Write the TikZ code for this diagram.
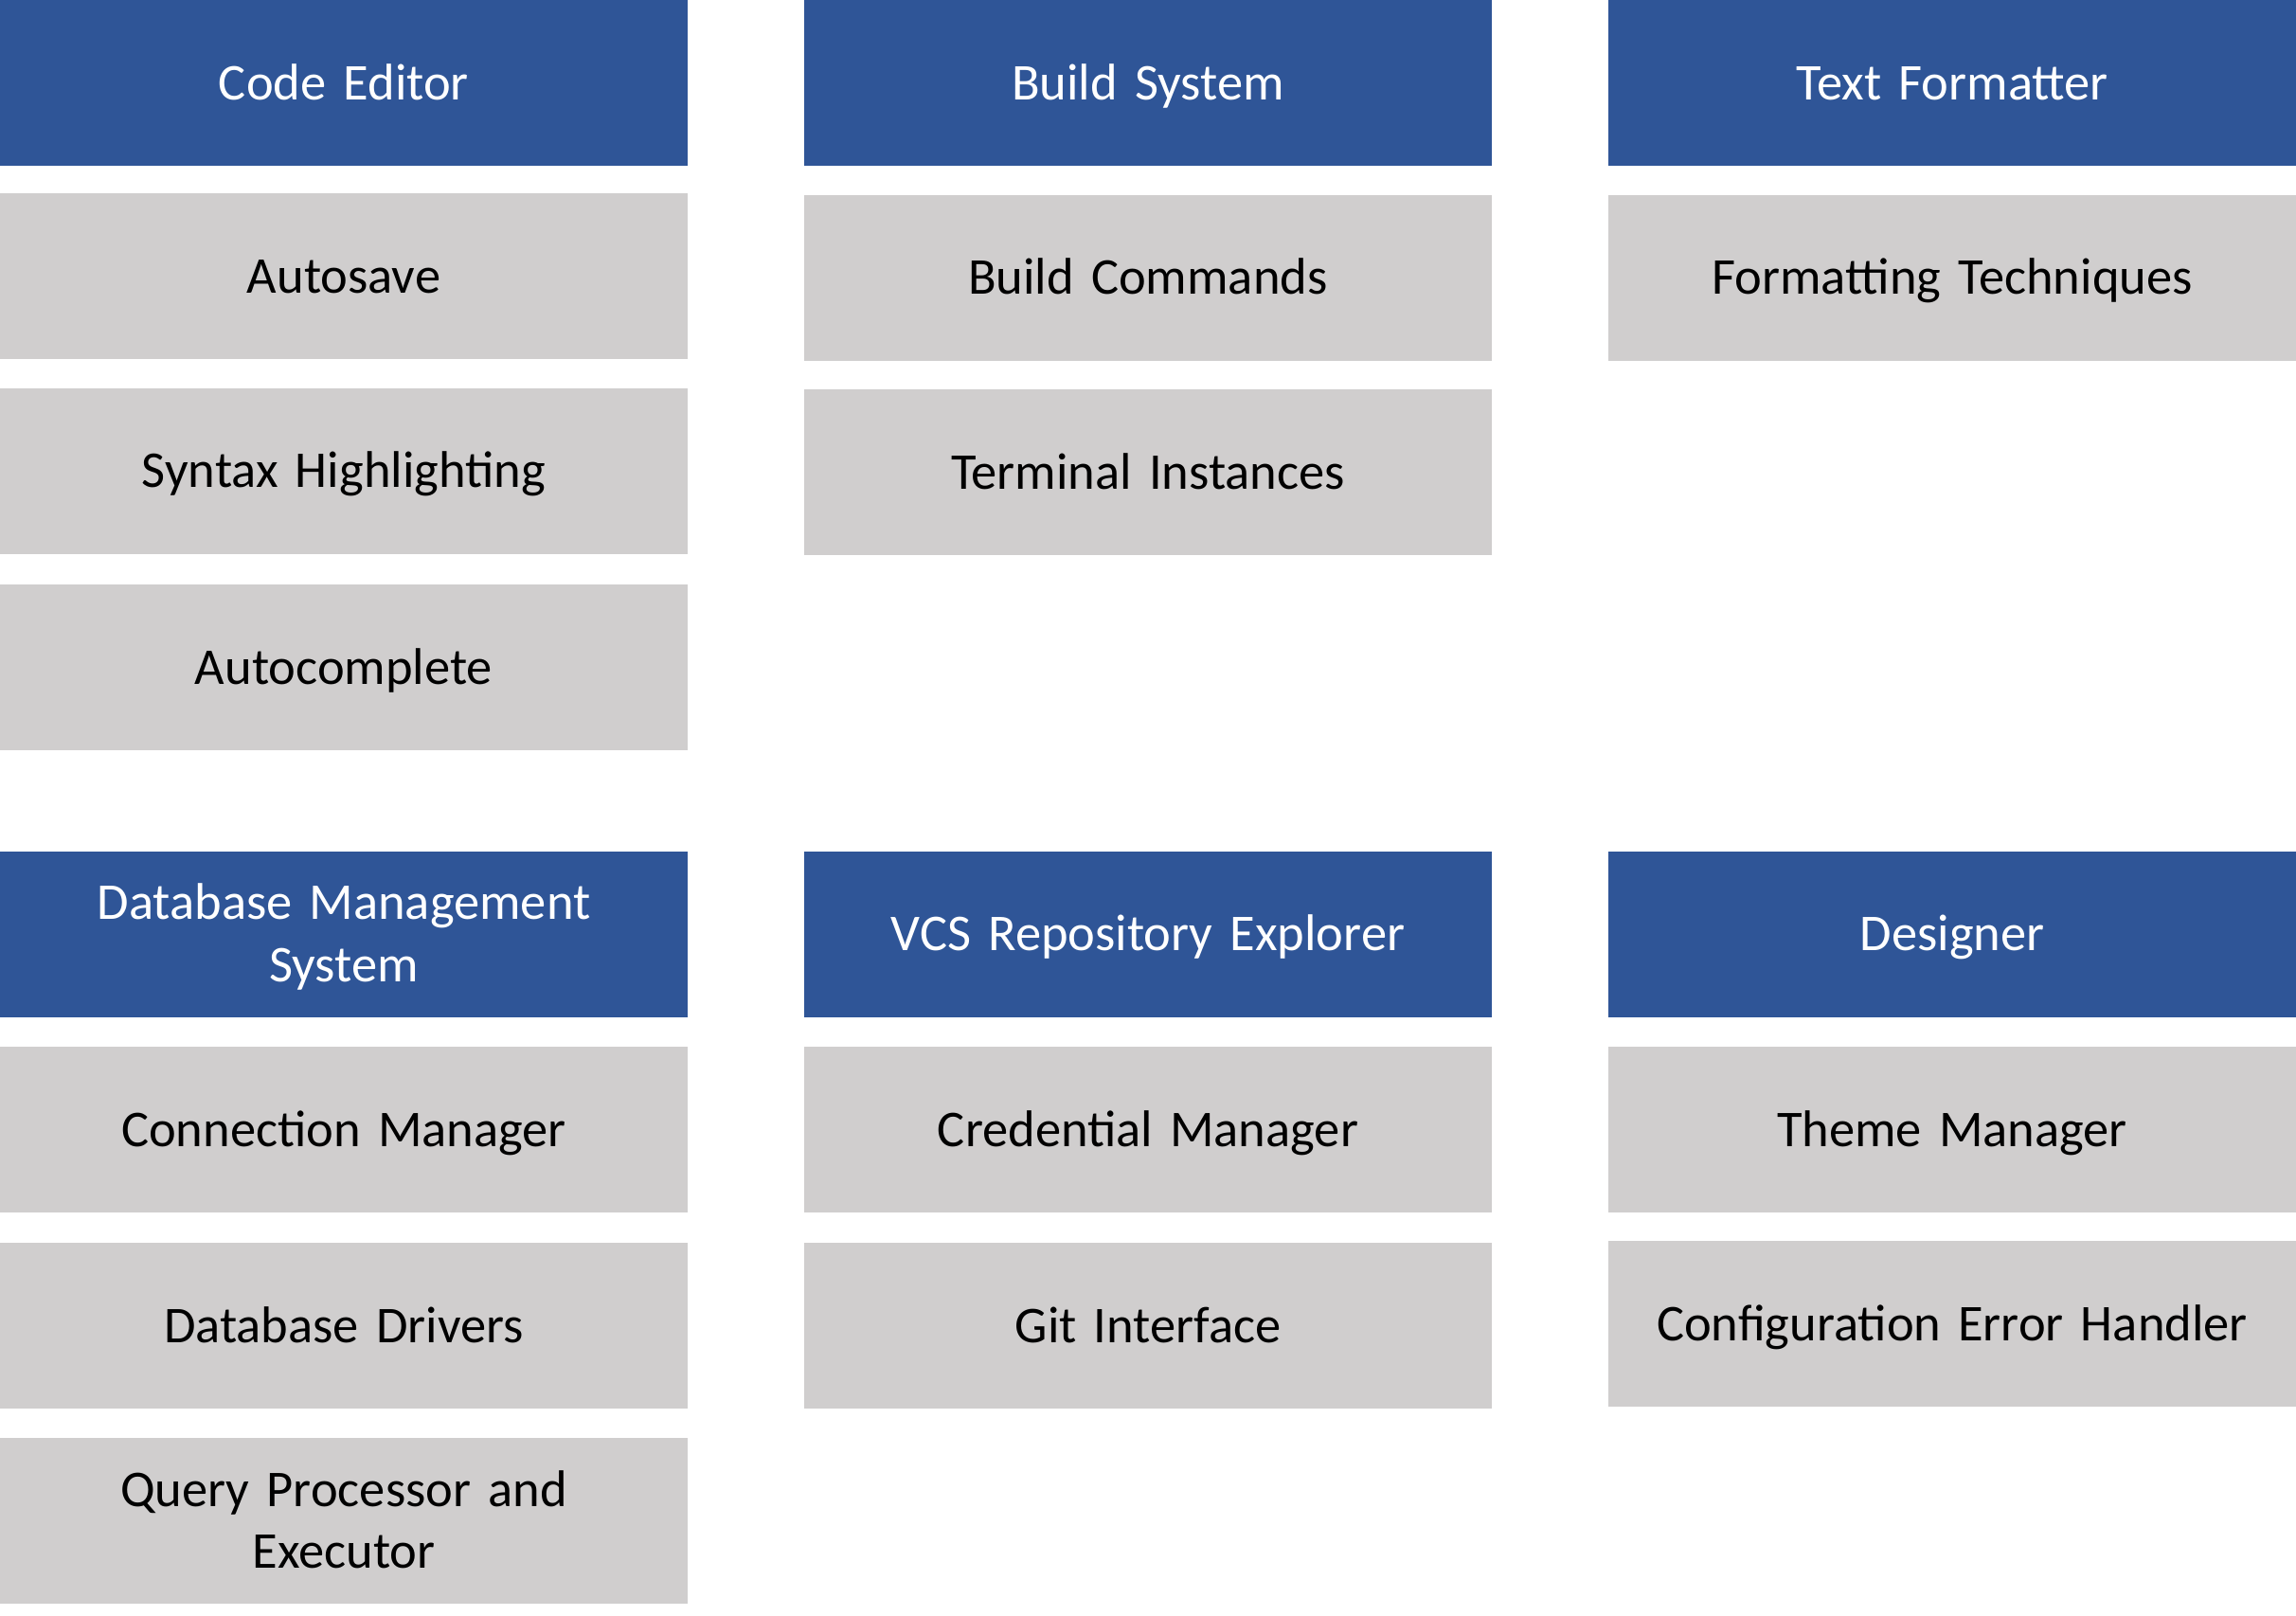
\documentclass[tikz,border=0pt]{standalone}
\usepackage{fontspec}
\setmainfont{Carlito}[WordSpace=0.7]
\usepackage{tikz}
\usetikzlibrary{positioning}
\definecolor{hdrblue}{RGB}{47,85,151}
\definecolor{itemgray}{RGB}{208,206,206}
\newcommand\boxstrut{\rule[-4pt]{0pt}{18pt}}

\begin{document}
\begin{tikzpicture}[font=\fontsize{15.5}{18.6}\selectfont,
  box/.style={minimum width=7.26cm,minimum height=1.75cm,inner sep=0pt,outer sep=0pt,align=center,text width=7cm,
    execute at begin node=\boxstrut,execute at end node=\boxstrut},
  hdr/.style={box,fill=hdrblue,text=white},
  item/.style={box,fill=itemgray,text=black}]
  \useasboundingbox (0,0) rectangle (24.24,-17.05);
  % top row
  \node[hdr] (editor) at (3.63,-0.875) {Code Editor};
  \node[item] (autosave) at (3.63,-2.915) {Autosave};
  \node[item] (syntax) at (3.63,-4.97) {Syntax Highlighting};
  \node[item] (autocomplete) at (3.63,-7.045) {Autocomplete};
  \node[hdr] (build) at (12.12,-0.875) {Build System};
  \node[item] (buildcmd) at (12.12,-2.93) {Build Commands};
  \node[item] (terminal) at (12.12,-4.985) {Terminal Instances};
  \node[hdr] (formatter) at (20.61,-0.875) {Text Formatter};
  \node[item] (techniques) at (20.61,-2.93) {Formatting Techniques};
  % bottom row
  \node[hdr] (dbms) at (3.63,-9.86) {Database Management\\System};
  \node[item] (connection) at (3.63,-11.925) {Connection Manager};
  \node[item] (drivers) at (3.63,-13.995) {Database Drivers};
  \node[item] (query) at (3.63,-16.055) {Query Processor and\\Executor};
  \node[hdr] (vcs) at (12.12,-9.86) {VCS Repository Explorer};
  \node[item] (credential) at (12.12,-11.925) {Credential Manager};
  \node[item] (git) at (12.12,-13.995) {Git Interface};
  \node[hdr] (designer) at (20.61,-9.86) {Designer};
  \node[item] (theme) at (20.61,-11.925) {Theme Manager};
  \node[item] (configerr) at (20.61,-13.975) {Configuration Error Handler};
\end{tikzpicture}
\end{document}
